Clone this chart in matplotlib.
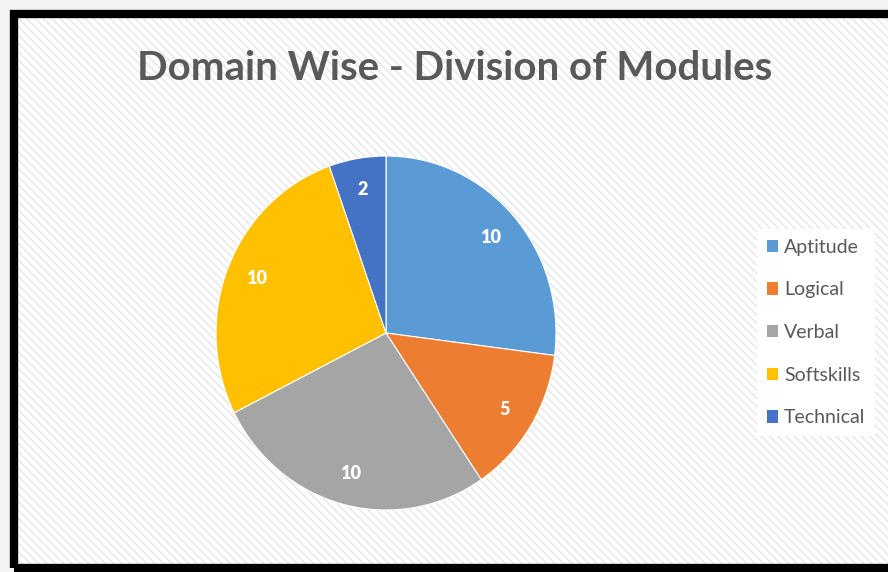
import matplotlib.pyplot as plt
from matplotlib.patches import Rectangle, Patch

categories = ['Aptitude', 'Logical', 'Verbal', 'Softskills', 'Technical']
values = [10, 5, 10, 10, 2]
colors = ['#5B9BD5', '#ED7D31', '#A5A5A5', '#FFC000', '#4472C4']
title = 'Domain Wise - Division of Modules'

W, H = 888, 572
fig = plt.figure(figsize=(W / 100, H / 100), dpi=100)
fig.patch.set_facecolor('#f4f4f4')

# hatched chart area and black frame (pixel coords -> figure fraction)
def fx(px):
    return px / W

def fy(py):
    return 1 - py / H

bg = Rectangle((fx(14), fy(568)), fx(900) - fx(14), fy(14) - fy(568),
               transform=fig.transFigure, facecolor='white', edgecolor='#e6e6e6',
               hatch='\\\\\\\\', linewidth=0, zorder=-2)
fig.patches.append(bg)
frame = Rectangle((fx(14), fy(568)), fx(900) - fx(14), fy(14) - fy(568),
                  transform=fig.transFigure, fill=False, edgecolor='black',
                  linewidth=6, zorder=-1)
fig.patches.append(frame)

fig.text(fx(455), fy(68), title, ha='center', va='center', fontsize=29,
         fontweight='bold', color='#595959', family=['Lato', 'DejaVu Sans'])

# pie
cx, cy, rx, ry = 386, 333, 170, 177
ax = fig.add_axes([fx(cx - rx), fy(cy + ry), 2 * rx / W, 2 * ry / H])
ax.set_zorder(2)
ax.pie(values, colors=colors, startangle=90, counterclock=False,
       labels=[str(v) for v in values], labeldistance=0.82,
       wedgeprops=dict(edgecolor='white', linewidth=0.8),
       textprops=dict(color='white', fontsize=13, fontweight='heavy',
                      family=['Lato', 'DejaVu Sans'], ha='center', va='center'))
ax.set_aspect('auto')
ax.set_xlim(-1, 1)
ax.set_ylim(-1, 1)
ax.axis('off')

# legend
handles = [Patch(facecolor=c, edgecolor='none') for c in colors]
leg = fig.legend(handles, categories, loc='upper left',
                 bbox_to_anchor=(fx(757), fy(229)), frameon=True, fancybox=False,
                 handlelength=0.6, handleheight=0.6, handletextpad=0.3,
                 labelspacing=1.32, borderpad=0.5, borderaxespad=0,
                 prop=dict(family=['Lato', 'DejaVu Sans'], size=14))
leg.get_frame().set_facecolor('white')
leg.get_frame().set_edgecolor('none')
leg.get_frame().set_alpha(1)
for t in leg.get_texts():
    t.set_color('#595959')

fig.savefig('out.png', dpi=100, facecolor=fig.get_facecolor())
